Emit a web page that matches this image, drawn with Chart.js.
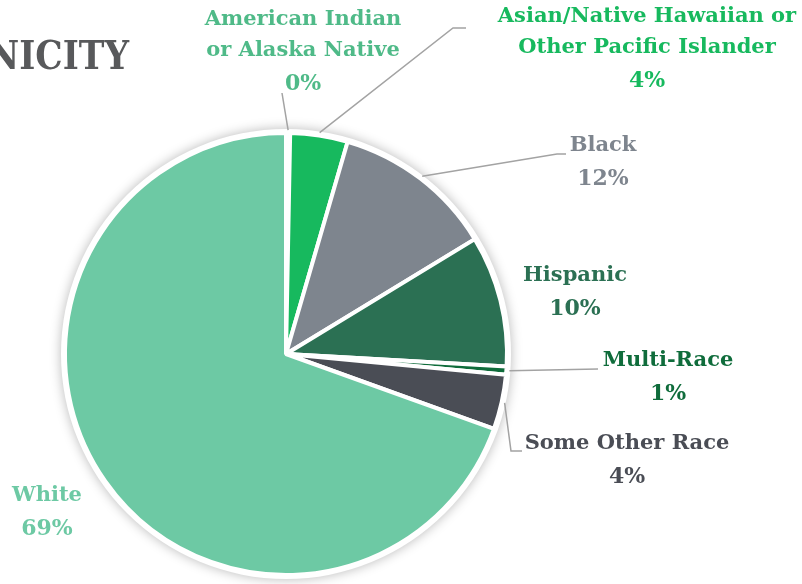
<!DOCTYPE html>
<html>
<head>
<meta charset="utf-8">
<script src="https://cdn.jsdelivr.net/npm/chart.js@4.4.0/dist/chart.umd.min.js"></script>
<style>
  html, body { margin: 0; padding: 0; background: #fff; }
  #wrap { position: relative; width: 802px; height: 584px; overflow: hidden; }
</style>
</head>
<body>
<div id="wrap"><canvas id="myChart" width="802" height="584"></canvas></div>
<script>
// Data (percent of total)
const categories = ['American Indian or Alaska Native', 'Asian/Native Hawaiian or Other Pacific Islander', 'Black', 'Hispanic', 'Multi-Race', 'Some Other Race', 'White'];
const shares = [0.3, 4.2, 11.8, 9.6, 0.6, 4.0, 69.5];
const shareLabels = ['0%', '4%', '12%', '10%', '1%', '4%', '69%'];
const sliceColors = ['#5cc08e', '#17b95e', '#7e858e', '#2b7053', '#0f6c3b', '#4a4d55', '#6dc9a4'];
const labelColors = ['#4fba88', '#17b95e', '#7e858e', '#2b7053', '#0f6c3b', '#4a4d55', '#6dc9a4'];

// label layout: text lines, centre x, first line y, and leader path (elbow points)
const labelLayout = [
  { lines: ['American Indian', 'or Alaska Native'], x: 303, y: 20, leader: [[282, 93]] },
  { lines: ['Asian/Native Hawaiian or', 'Other Pacific Islander'], x: 647, y: 17, leader: [[453, 28], [466, 28]] },
  { lines: ['Black'], x: 603, y: 146, leader: [[557, 154], [566, 154]] },
  { lines: ['Hispanic'], x: 575, y: 276, leader: null },
  { lines: ['Multi-Race'], x: 668, y: 361, leader: [[598, 369]] },
  { lines: ['Some Other Race'], x: 627, y: 444, leader: [[511, 451], [522, 451]] },
  { lines: ['White'], x: 47, y: 496, leader: null }
];

const FONT = '"DejaVu Serif", serif';

const shadowPlugin = {
  id: 'pieShadow',
  beforeDatasetsDraw(chart) {
    const arc = chart.getDatasetMeta(0).data[0];
    if (!arc) return;
    const ctx = chart.ctx;
    ctx.save();
    ctx.shadowColor = 'rgba(0,0,0,0.28)';
    ctx.shadowBlur = 12;
    ctx.fillStyle = '#ffffff';
    ctx.beginPath();
    ctx.arc(arc.x, arc.y, arc.outerRadius + 4, 0, Math.PI * 2);
    ctx.fill();
    ctx.restore();
  }
};

const labelPlugin = {
  id: 'sliceLabels',
  afterDraw(chart) {
    const ctx = chart.ctx;
    const meta = chart.getDatasetMeta(0);
    ctx.save();
    // title, cut off at the left edge (squeezed a bit, the original face is narrower)
    ctx.save();
    ctx.translate(129, 59);
    ctx.scale(0.86, 1);
    ctx.font = 'bold 40px ' + FONT;
    ctx.fillStyle = '#58595b';
    ctx.textAlign = 'right';
    ctx.textBaseline = 'middle';
    ctx.fillText('ETHNICITY', 0, 0);
    ctx.restore();

    meta.data.forEach((arc, i) => {
      const lay = labelLayout[i];
      // leader line from the middle of the slice's outer edge
      if (lay.leader) {
        const mid = (arc.startAngle + arc.endAngle) / 2;
        const r = arc.outerRadius + 3;
        ctx.strokeStyle = '#a3a3a3';
        ctx.lineWidth = 1.5;
        ctx.beginPath();
        ctx.moveTo(arc.x + Math.cos(mid) * r, arc.y + Math.sin(mid) * r);
        lay.leader.forEach(p => ctx.lineTo(p[0], p[1]));
        ctx.stroke();
      }
      ctx.fillStyle = labelColors[i];
      ctx.textAlign = 'center';
      ctx.textBaseline = 'middle';
      ctx.font = 'bold 21px ' + FONT;
      let y = lay.y;
      lay.lines.forEach(t => { ctx.fillText(t, lay.x, y); y += 31; });
      ctx.font = 'bold 22px ' + FONT;
      ctx.fillText(shareLabels[i], lay.x, y + 2);
    });
    ctx.restore();
  }
};

const config = {
  type: 'pie',
  data: {
    labels: categories,
    datasets: [{
      data: shares,
      backgroundColor: sliceColors,
      borderColor: '#ffffff',
      borderWidth: 4
    }]
  },
  options: {
    responsive: false,
    animation: false,
    radius: 221,
    layout: { padding: { left: 62, top: 130, right: 292, bottom: 6 } },
    plugins: {
      legend: { display: false },
      tooltip: { enabled: false }
    }
  },
  plugins: [shadowPlugin, labelPlugin]
};

const myChart = new Chart(document.getElementById('myChart'), config);
</script>
</body>
</html>
